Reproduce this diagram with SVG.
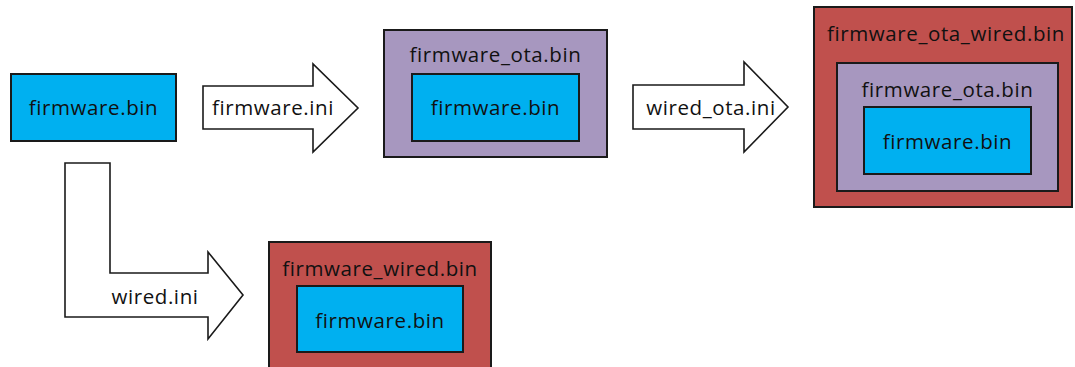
<svg xmlns="http://www.w3.org/2000/svg" width="1075" height="367" viewBox="0 0 1075 367">
  <defs>
    <style>
      .bg { fill: #ffffff; }
      .box { stroke: #1a1a1a; stroke-width: 2; }
      .blue { fill: #00b0f0; }
      .purple { fill: #a797bf; }
      .red { fill: #c0504d; }
      .arrow { fill: #ffffff; stroke: #1a1a1a; stroke-width: 1.6; stroke-linejoin: miter; }
      .lbl { font-family: "Open Sans", "Liberation Sans", sans-serif; font-size: 20.5px; letter-spacing: 0.6px; fill: #111111; text-anchor: middle; dominant-baseline: central; }
    </style>
  </defs>
  <rect class="bg" x="0" y="0" width="1075" height="367"/>

  <!-- connectors: block arrows carrying the .ini names -->
  <g id="connectors">
    <g id="arrow-firmware-ini">
      <path class="arrow" d="M203,86 H313 V64 L358,108 L313,152 V129 H203 Z"/>
      <text class="lbl" x="273" y="107">firmware.ini</text>
    </g>
    <g id="arrow-wired-ota-ini">
      <path class="arrow" d="M633,85 H744 V62 L788,107 L744,152 V129 H633 Z"/>
      <text class="lbl" x="711" y="107">wired_ota.ini</text>
    </g>
    <g id="arrow-wired-ini">
      <path class="arrow" d="M65,163 H110 V273 H208 V252 L243,295 L208,339 V317 H65 Z"/>
      <text class="lbl" x="155" y="296">wired.ini</text>
    </g>
  </g>

  <!-- source image -->
  <g id="node-firmware">
    <rect class="box blue" x="11" y="74" width="165" height="67"/>
    <text class="lbl" x="93.5" y="107">firmware.bin</text>
  </g>

  <!-- OTA wrapper -->
  <g id="node-firmware-ota">
    <rect class="box purple" x="384" y="30" width="223" height="127"/>
    <text class="lbl" x="495.5" y="54">firmware_ota.bin</text>
    <rect class="box blue" x="412" y="74" width="167" height="67"/>
    <text class="lbl" x="495.5" y="107">firmware.bin</text>
  </g>

  <!-- wired wrapper around the OTA image -->
  <g id="node-firmware-ota-wired">
    <rect class="box red" x="814" y="7" width="258" height="200"/>
    <text class="lbl" x="946" y="33">firmware_ota_wired.bin</text>
    <rect class="box purple" x="837" y="63" width="221" height="128"/>
    <text class="lbl" x="947.5" y="89">firmware_ota.bin</text>
    <rect class="box blue" x="864" y="107" width="167" height="67"/>
    <text class="lbl" x="947.5" y="141">firmware.bin</text>
  </g>

  <!-- wired wrapper -->
  <g id="node-firmware-wired">
    <rect class="box red" x="269" y="242" width="222" height="140"/>
    <text class="lbl" x="380" y="268">firmware_wired.bin</text>
    <rect class="box blue" x="297" y="286" width="166" height="66"/>
    <text class="lbl" x="380" y="320">firmware.bin</text>
  </g>
</svg>
